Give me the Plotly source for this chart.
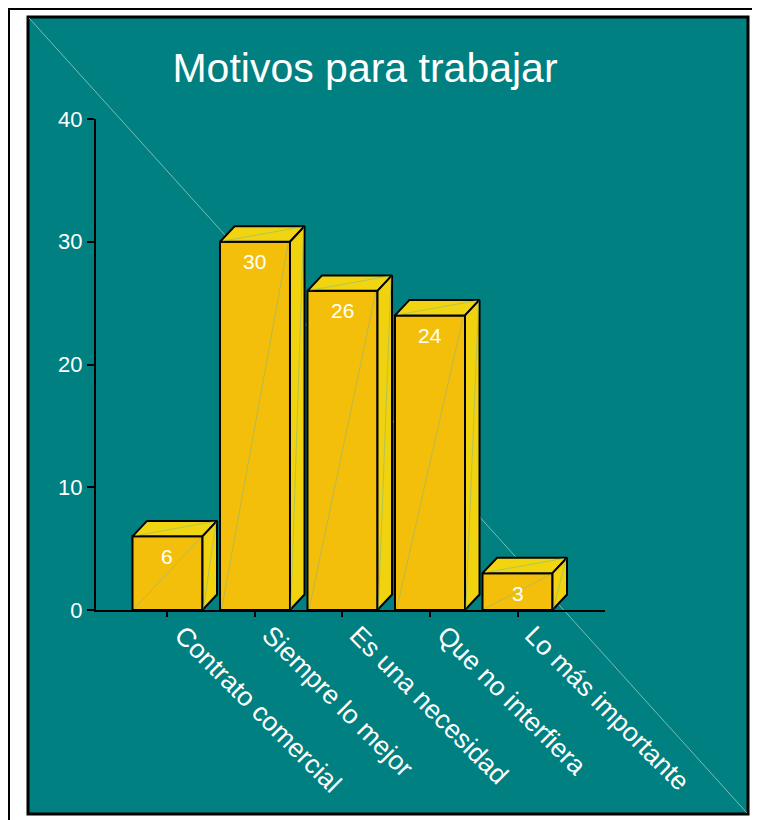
import plotly.graph_objects as go

categories = ['Contrato comercial', 'Siempre lo mejor', 'Es una necesidad',
              'Que no interfiera', 'Lo más importante']
values = [6, 30, 26, 24, 3]

TEAL = '#008080'
FRONT = '#F4BF0A'
TOPC = '#F0D510'
SIDE = '#F0D20E'
SEAM = 'rgba(120,180,150,0.7)'

# the page puts the figure 8px in from the window corner
OFF = 8

# plot area in window pixels: x 96..605, y 119..610
def px_x(p):
    return (p - 96) / 509

def px_y(p):
    return (610 - p) / 491

hw = 0.4    # half bar width (category units)
dx = 0.166  # depth offset, x
dy = 1.26   # depth offset, y

xs = list(range(len(categories)))

fig = go.Figure()

# front faces
fig.add_trace(go.Bar(x=xs, y=values, width=0.8,
                     marker=dict(color=FRONT, line=dict(color='black', width=2)),
                     hoverinfo='skip', showlegend=False))

for x, v in zip(xs, values):
    # top face
    fig.add_trace(go.Scatter(
        x=[x - hw, x + hw, x + hw + dx, x - hw + dx, x - hw],
        y=[v, v, v + dy, v + dy, v],
        fill='toself', fillcolor=TOPC, mode='lines',
        line=dict(color='black', width=2), hoverinfo='skip', showlegend=False))
    # side face
    fig.add_trace(go.Scatter(
        x=[x + hw, x + hw + dx, x + hw + dx, x + hw, x + hw],
        y=[0, dy, v + dy, v, 0],
        fill='toself', fillcolor=SIDE, mode='lines',
        line=dict(color='black', width=2), hoverinfo='skip', showlegend=False))
    # faint seams on faces
    for sx, sy in [([x - hw + 0.02, x + hw - 0.02], [0.1, v - 0.1]),
                   ([x - hw + 0.03, x + hw + dx - 0.03], [v + 0.05, v + dy - 0.05]),
                   ([x + hw + dx - 0.01, x + hw + 0.01], [v + dy - 0.1, 0.1])]:
        fig.add_trace(go.Scatter(x=sx, y=sy, mode='lines',
                                 line=dict(color=SEAM, width=0.7),
                                 hoverinfo='skip', showlegend=False))

# value labels
for x, v in zip(xs, values):
    fig.add_annotation(x=x, y=v, text=str(v), showarrow=False, yshift=-20,
                       font=dict(color='white', size=21,
                                 family='Liberation Sans, Arial, sans-serif'))

fig.update_layout(
    width=760, height=820,
    margin=dict(l=96 - OFF, r=760 - (605 - OFF), t=119 - OFF, b=820 - (610 - OFF)),
    paper_bgcolor='white',
    plot_bgcolor='rgba(0,0,0,0)',
    font=dict(family='Liberation Sans, Arial, sans-serif', color='white'),
    title=dict(text='Motivos para trabajar', x=px_x(365), xanchor='center',
               xref='paper', y=1 - (68 - OFF) / 820, yanchor='middle',
               font=dict(size=41, color='white')),
    bargap=0.2,
    shapes=[
        dict(type='rect', xref='paper', yref='paper', layer='below',
             x0=px_x(9), x1=px_x(800), y0=px_y(840), y1=px_y(9),
             line=dict(color='black', width=2), fillcolor='white'),
        dict(type='rect', xref='paper', yref='paper', layer='below',
             x0=px_x(28), x1=px_x(748), y0=px_y(814), y1=px_y(17),
             line=dict(color='black', width=3), fillcolor=TEAL),
        dict(type='line', xref='paper', yref='paper', layer='below',
             x0=px_x(29), x1=px_x(747), y0=px_y(18), y1=px_y(813),
             line=dict(color='rgba(150,205,195,0.8)', width=1)),
    ],
)

fig.update_xaxes(range=[-0.817, 5.0], tickmode='array', tickvals=xs,
                 ticktext=categories, tickangle=45,
                 tickfont=dict(size=26.5, color='white'),
                 ticklabelshift=15, ticklabelstandoff=-8,
                 showline=True, linecolor='black', linewidth=2,
                 ticks='outside', ticklen=5, tickcolor='black', tickwidth=2,
                 showgrid=False, zeroline=False)
fig.update_yaxes(range=[0, 40], tickvals=[0, 10, 20, 30, 40],
                 tickfont=dict(size=22, color='white'),
                 showline=True, linecolor='black', linewidth=2,
                 ticks='outside', ticklen=7, tickcolor='black', tickwidth=2,
                 showgrid=False, zeroline=False)

fig.write_html("out.html")
